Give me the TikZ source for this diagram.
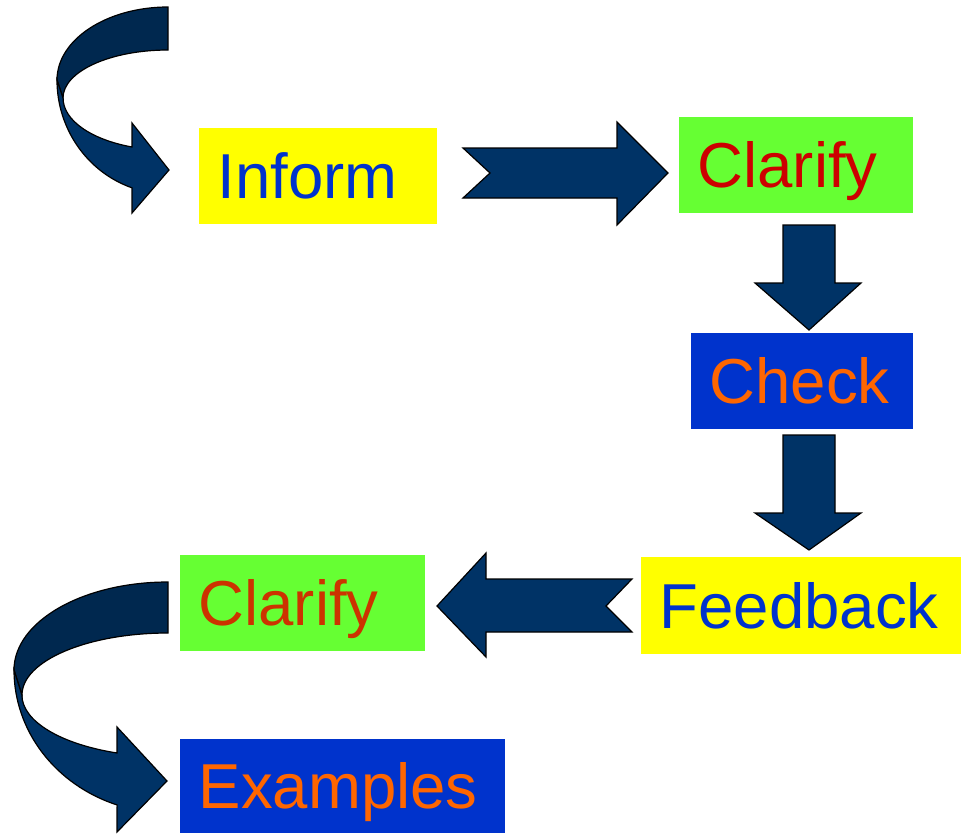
\documentclass[tikz,border=0pt]{standalone}
\usepackage{fontspec}
\setmainfont{Liberation Sans}
\usepackage{tikz}
\definecolor{navy}{HTML}{003366}
\definecolor{navydark}{HTML}{00284F}
\definecolor{boxyellow}{HTML}{FFFF00}
\definecolor{boxgreen}{HTML}{66FF33}
\definecolor{boxblue}{HTML}{0033CC}
\definecolor{txtred}{HTML}{CC0000}
\definecolor{txtrust}{HTML}{CC3300}
\definecolor{txtorange}{HTML}{FF6600}
\definecolor{txtblue}{HTML}{0033CC}
\tikzstyle{card} = [rectangle, anchor=north west, inner xsep=18.5pt, inner ysep=0pt, align=left, text height=45.5pt, text depth=0pt, font=\fontsize{63.5}{70}\selectfont]
\tikzstyle{yellowcard} = [card, fill=boxyellow, text=txtblue]
\tikzstyle{greencard} = [card, fill=boxgreen]
\tikzstyle{bluecard} = [card, fill=boxblue, text=txtorange]
\tikzstyle{blockarrow} = [draw=black, line width=1.2pt, line join=miter, fill=navy]
\tikzstyle{foldband} = [blockarrow, fill=navydark]

\begin{document}
\begin{tikzpicture}[x=1pt, y=-1pt]
\useasboundingbox (0,0) rectangle (961,833);

\node (inform) [yellowcard, text width=201pt, minimum height=96pt] at (199,128) {Inform};
\node (clarify1) [greencard, text=txtred, text width=197pt, minimum height=96pt] at (679,117) {Clarify};
\node (check) [bluecard, text width=185pt, minimum height=96pt] at (691,333) {Check};
\node (feedback) [yellowcard, text width=283pt, minimum height=97pt] at (641,557) {Feedback};
\node (clarify2) [greencard, text=txtrust, text width=208pt, minimum height=96pt] at (180,555) {Clarify};
\node (examples) [bluecard, text width=288pt, minimum height=94pt] at (180,739) {Examples};

% curved arrow into Inform
\draw [foldband] (168,7) arc[start angle=90, end angle=180, x radius=111pt, y radius=73pt]
  -- (63,98) arc[start angle=180, end angle=90, x radius=105pt, y radius=48pt] -- cycle;
\draw [blockarrow] (57,80) arc[start angle=180, end angle=251.1, x radius=111pt, y radius=114pt]
  -- (132,213) -- (169,170) -- (132,123) -- (132,147)
  arc[start angle=249.9, end angle=180, x radius=105pt, y radius=52pt] -- cycle;

% Inform -> Clarify
\draw [blockarrow] (463,148) -- (617,148) -- (617,122) -- (668,173) -- (617,225)
  -- (617,198) -- (463,198) -- (490,173) -- cycle;

% Clarify -> Check
\draw [blockarrow] (783,225) -- (835,225) -- (835,283) -- (861,283) -- (809,330)
  -- (755,283) -- (783,283) -- cycle;

% Check -> Feedback
\draw [blockarrow] (783,435) -- (835,435) -- (835,513) -- (861,513) -- (809,550)
  -- (755,513) -- (783,513) -- cycle;

% Feedback -> Clarify
\draw [blockarrow] (632,579) -- (486,579) -- (486,553) -- (437,606) -- (486,657)
  -- (486,632) -- (632,632) -- (606,606) -- cycle;

% curved arrow from Clarify down to Examples
\draw [foldband] (168,582) arc[start angle=90, end angle=180, x radius=154pt, y radius=88pt]
  -- (22,695) arc[start angle=180, end angle=90, x radius=146pt, y radius=62pt] -- cycle;
\draw [blockarrow] (14,670) arc[start angle=180, end angle=250.7, x radius=154pt, y radius=143pt]
  -- (117,832) -- (167,781) -- (117,727) -- (117,753)
  arc[start angle=249.6, end angle=180, x radius=146pt, y radius=62pt] -- cycle;

\end{tikzpicture}
\end{document}
